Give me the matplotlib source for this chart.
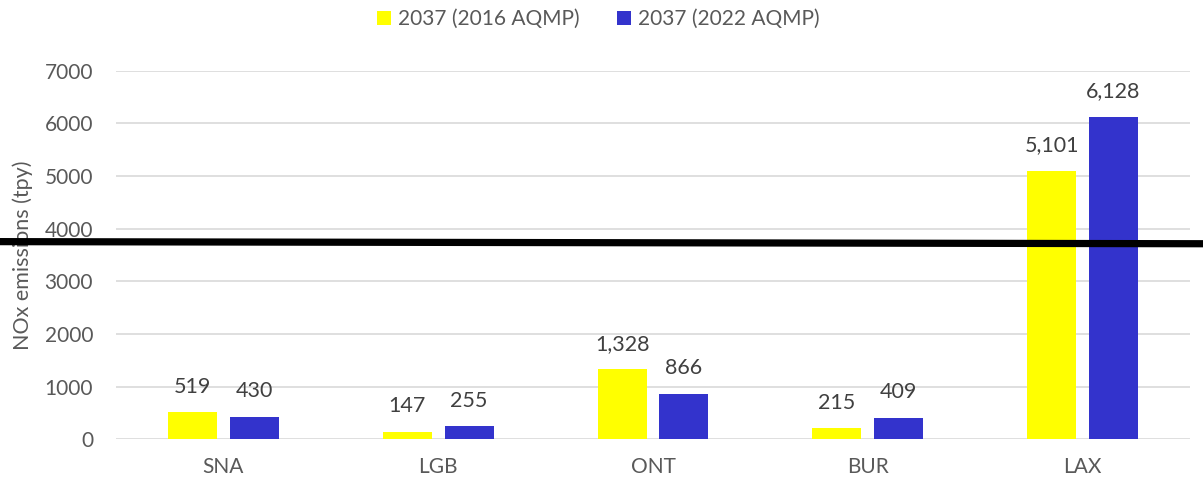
import matplotlib
matplotlib.use("Agg")
import matplotlib.pyplot as plt
from matplotlib.lines import Line2D
import numpy as np

plt.rcParams['font.family'] = ['Lato', 'DejaVu Sans']

categories = ["SNA", "LGB", "ONT", "BUR", "LAX"]
series_names = ["2037 (2016 AQMP)", "2037 (2022 AQMP)"]
values_2016 = [519, 147, 1328, 215, 5101]
values_2022 = [430, 255, 866, 409, 6128]
yticks = [0, 1000, 2000, 3000, 4000, 5000, 6000, 7000]
overlay_level = 3734  # the thick black horizontal line

colors = ["#FFFF00", "#3333CC"]
text_color = "#595959"

fig = plt.figure(figsize=(12.03, 4.82), dpi=100)
ax = fig.add_axes([116/1203, 1-439.3/482, (1190-116)/1203, (439.3-70.7)/482])

x = np.arange(len(categories))
w = 0.228
gap = 0.059
off = (w + gap) / 2
b1 = ax.bar(x - off, values_2016, w, color=colors[0], label=series_names[0], zorder=3)
b2 = ax.bar(x + off, values_2022, w, color=colors[1], label=series_names[1], zorder=3)

for bars, vals in ((b1, values_2016), (b2, values_2022)):
    for rect, v in zip(bars, vals):
        ax.annotate(f"{v:,}", (rect.get_x() + rect.get_width()/2, v),
                    xytext=(0, 11), textcoords="offset points",
                    ha="center", va="bottom", fontsize=15.5, color="#404040", zorder=4)

ax.set_xlim(-0.5, len(categories) - 0.5)
ax.set_ylim(0, 7000)
ax.set_yticks(yticks)
ax.set_yticklabels([str(t) for t in yticks])
ax.set_xticks(x)
ax.set_xticklabels(categories)
ax.tick_params(axis='both', length=0, labelsize=15, colors=text_color)
ax.tick_params(axis='y', pad=16.5)
ax.tick_params(axis='x', pad=13)
ax.grid(axis='y', color="#D9D9D9", linewidth=1.2, zorder=0)
for s in ax.spines.values():
    s.set_visible(False)
ax.set_ylabel("NOx emissions (tpy)", fontsize=15.5, color=text_color)
ax.yaxis.set_label_coords(-0.0773, 0.5)

leg = fig.legend(handles=[b1, b2], labels=series_names, loc="center",
                 bbox_to_anchor=(598.5/1203, 1-19/482), ncol=2, frameon=False,
                 fontsize=15, handlelength=0.67, handleheight=0.67, handletextpad=0.33,
                 columnspacing=1.78)
for t in leg.get_texts():
    t.set_color(text_color)

# thick black overlay line across full figure width
def yfig(v):
    return (ax.transData.transform((0, v))[1]) / fig.bbox.height
y0 = yfig(overlay_level + 20)
y1 = yfig(overlay_level - 20)
fig.add_artist(Line2D([0, 1], [y0, y1], transform=fig.transFigure,
                      color="black", linewidth=5.2, zorder=10))

fig.savefig("out.png", dpi=100)
